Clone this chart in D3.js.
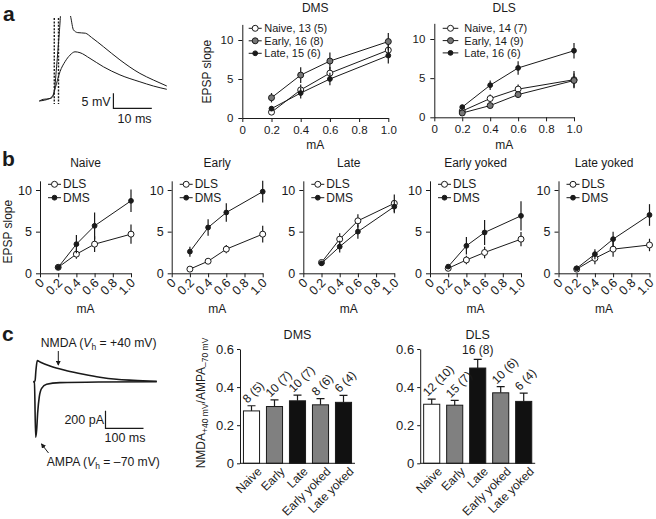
<!DOCTYPE html>
<html lang="en">
<head>
<meta charset="UTF-8">
<title>EPSP slope and NMDA/AMPA</title>
<script src="https://cdn.jsdelivr.net/npm/d3@7/dist/d3.min.js"></script>
<style>
  html, body { margin: 0; background: #fff; }
  svg { display: block; font-family: 'Liberation Sans', Arial, sans-serif; fill: #1a1a1a; }
  .axis path, .axis line { stroke: #1a1a1a; }
  .axis text { fill: #1a1a1a; font-family: 'Liberation Sans', Arial, sans-serif; }
</style>
</head>
<body>
<script>
// stimulation intensities (mA) and ticks
const currents = [0.2, 0.4, 0.6, 1.0]
const mATicks = [0, 0.2, 0.4, 0.6, 0.8, 1.0]
const slopeTicks = [0, 5, 10]

// panel a - DMS
const aDmsNaive = [0.75, 3.6, 5.75, 8.7]
const aDmsNaiveErr = [0.2, 0.7, 0.8, 1.0]
const aDmsEarly = [2.6, 5.5, 7.3, 9.8]
const aDmsEarlyErr = [0.6, 1.0, 1.1, 1.1]
const aDmsLate = [1.2, 3.2, 5.0, 8.0]
const aDmsLateErr = [0.3, 0.7, 0.8, 1.0]
const aDmsLegend = ['Naive, 13 (5)', 'Early, 16 (8)', 'Late, 15 (6)']

// panel a - DLS
const aDlsNaive = [0.8, 2.4, 3.6, 4.8]
const aDlsNaiveErr = [0.2, 0.5, 0.6, 1.1]
const aDlsEarly = [0.55, 1.5, 2.9, 4.7]
const aDlsEarlyErr = [0.2, 0.3, 0.4, 0.9]
const aDlsLate = [1.3, 4.1, 6.3, 8.5]
const aDlsLateErr = [0.3, 0.6, 0.85, 1.0]
const aDlsLegend = ['Naive, 14 (7)', 'Early, 14 (9)', 'Late, 16 (6)']

// panel b - DLS vs DMS per group
const bGroups = ['Naive', 'Early', 'Late', 'Early yoked', 'Late yoked']
const bDls = [
  [0.72, 2.3, 3.5, 4.7],
  [0.5, 1.45, 2.9, 4.7],
  [1.3, 4.1, 6.3, 8.4],
  [0.6, 1.6, 2.5, 4.1],
  [0.5, 1.8, 2.9, 3.4]
]
const bDlsErr = [
  [0.2, 0.55, 0.95, 1.15],
  [0.15, 0.25, 0.5, 1.0],
  [0.2, 0.7, 0.8, 1.05],
  [0.15, 0.5, 0.7, 0.85],
  [0.15, 0.7, 0.9, 0.75]
]
const bDms = [
  [0.72, 3.5, 5.7, 8.7],
  [2.6, 5.5, 7.3, 9.8],
  [1.2, 3.2, 5.0, 8.0],
  [0.8, 3.3, 4.9, 6.9],
  [0.6, 2.3, 4.1, 7.0]
]
const bDmsErr = [
  [0.2, 1.1, 1.6, 1.35],
  [0.6, 1.0, 1.1, 1.3],
  [0.2, 0.7, 0.85, 0.8],
  [0.2, 1.05, 1.5, 1.75],
  [0.15, 0.6, 0.9, 1.3]
]
const bLegend = ['DLS', 'DMS']

// panel c - NMDA/AMPA ratio
const ratioGroups = ['Naive', 'Early', 'Late', 'Early yoked', 'Late yoked']
const ratioTicks = [0, 0.2, 0.4, 0.6]
const ratioDms = [0.275, 0.298, 0.328, 0.307, 0.32]
const ratioDmsErr = [0.027, 0.035, 0.03, 0.033, 0.037]
const ratioDmsN = ['8 (5)', '10 (7)', '10 (7)', '8 (6)', '6 (4)']
const ratioDls = [0.31, 0.305, 0.50, 0.37, 0.325]
const ratioDlsErr = [0.027, 0.025, 0.046, 0.032, 0.043]
const ratioDlsN = ['12 (10)', '15 (7)', '16 (8)', '10 (6)', '6 (4)']

// example traces: [ms, mV] and [ms, pA]
const epspSmall = [[0, 0], [1, 0.55], [2.8, 0.8], [3.5, 1.4], [3.9, 3.1], [4.5, 5.9], [5.4, 9.8], [6.7, 13.1], [8, 15.3], [9.3, 16.4], [10.6, 16.1], [13.2, 14.2], [16.7, 11.4], [21, 8.7], [26.2, 6.4], [29.7, 5.0], [33.2, 3.9]]
const epspLarge = [[0, 0], [2.8, 0.9], [3.8, 2.6], [4.5, 11.4], [5.2, 22.6], [5.8, 31.4], [7.6, 31.4], [8.2, 27.9], [8.9, 23.7], [10, 22.8], [12, 22.6], [13.6, 21.2], [16.7, 18.1], [21, 13.7], [26.2, 9.2], [29.7, 7.0], [33.2, 5.0]]
const nmdaTrace = [[0, 0], [4.5, 8], [7, 133], [10.5, 239], [17.6, 224], [44, 178], [88, 125], [132, 84], [175, 50], [219, 27], [263, 16], [325, 5]]
const ampaTrace = [[0, 0], [3, -5], [6.2, -632], [8.8, -549], [11.4, -359], [15.8, -170], [22, -75], [35, -30], [70, -11], [175, -3], [325, 0]]

const width = 656
const height = 519
const svg = d3.select('body').append('svg')
  .attr('width', width)
  .attr('height', height)

const ink = '#1a1a1a'
const styles = {
  white: { fill: '#fff', r: 3 },
  gray: { fill: '#777', r: 3 },
  black: { fill: ink, r: 2.4 }
}

// panel letters
;[['a', 3, 21], ['b', 2, 166], ['c', 2, 341]].forEach(([t, x, y]) => {
  svg.append('text').attr('x', x).attr('y', y)
    .attr('font-size', 21).attr('font-weight', 'bold').text(t)
})

// EPSP slope vs current plot
function epspPlot(box, series, legend) {
  const x = d3.scaleLinear().domain([0, 1]).range([box.x0, box.x1])
  const y = d3.scaleLinear().domain([0, 10]).range([box.yZero, box.yTen])
  const yAx = d3.scaleLinear().domain([0, box.yMax]).range([box.yZero, y(box.yMax)])
  const g = svg.append('g')

  const gx = g.append('g').attr('class', 'axis')
    .attr('transform', `translate(0,${box.yZero})`)
    .call(d3.axisBottom(x).tickValues(mATicks)
      .tickSize(4).tickSizeOuter(0).tickPadding(4))
  gx.selectAll('.tick text').attr('font-size', box.tickFont)
    .text(d => d === 0 ? '0' : d.toFixed(1))
  if (box.rotate) {
    gx.selectAll('.tick text')
      .attr('text-anchor', 'end')
      .attr('x', -4).attr('y', 6).attr('dy', '0.35em')
      .attr('transform', 'rotate(-45)')
  }
  g.append('g').attr('class', 'axis')
    .attr('transform', `translate(${box.x0},0)`)
    .call(d3.axisLeft(yAx).tickValues(slopeTicks).tickSize(4).tickSizeOuter(0).tickPadding(box.rotate ? 4 : 5))
    .selectAll('.tick text').attr('font-size', box.tickFont)

  const line = d3.line().x(d => x(d[0])).y(d => y(d[1]))
  series.forEach(s => {
    const pts = currents.map((c, i) => [c, s.vals[i], s.err[i]])
    g.append('path').attr('d', line(pts)).attr('fill', 'none').attr('stroke', ink).attr('stroke-width', 1)
    g.selectAll(null).data(pts).join('line')
      .attr('x1', d => x(d[0])).attr('x2', d => x(d[0]))
      .attr('y1', d => y(d[1] - d[2])).attr('y2', d => y(d[1] + d[2]))
      .attr('stroke', ink).attr('stroke-width', 1.2)
    g.selectAll(null).data(pts).join('circle')
      .attr('cx', d => x(d[0])).attr('cy', d => y(d[1]))
      .attr('r', s.style.r).attr('fill', s.style.fill)
      .attr('stroke', ink).attr('stroke-width', 1)
  })

  // legend
  series.forEach((s, i) => {
    const ly = legend.y + i * legend.dy
    g.append('line').attr('x1', box.x0 + legend.l0).attr('x2', box.x0 + legend.l1)
      .attr('y1', ly).attr('y2', ly).attr('stroke', ink)
    g.append('circle').attr('cx', box.x0 + (legend.l0 + legend.l1) / 2).attr('cy', ly)
      .attr('r', s.style.r).attr('fill', s.style.fill).attr('stroke', ink)
    g.append('text').attr('x', box.x0 + legend.tx).attr('y', ly + 4)
      .attr('font-size', legend.font).text(legend.labels[i])
  })

  g.append('text').attr('x', (box.x0 + box.x1) / 2).attr('y', box.titleY)
    .attr('text-anchor', 'middle').attr('font-size', 12).text(box.title)
  g.append('text').attr('x', (box.x0 + box.x1) / 2).attr('y', box.mAY)
    .attr('text-anchor', 'middle').attr('font-size', 12).text('mA')
  if (box.yLabel) {
    g.append('text').attr('transform', `translate(${box.yLabel[0]},${box.yLabel[1]}) rotate(-90)`)
      .attr('text-anchor', 'middle').attr('font-size', 12).text('EPSP slope')
  }
}

// panel a plots
epspPlot(
  { x0: 242.3, x1: 388.3, yZero: 118, yTen: 40, yMax: 12, title: 'DMS', titleY: 12, mAY: 149, yLabel: [211, 71.7], tickFont: 11.5 },
  [
    { vals: aDmsNaive, err: aDmsNaiveErr, style: styles.white },
    { vals: aDmsEarly, err: aDmsEarlyErr, style: styles.gray },
    { vals: aDmsLate, err: aDmsLateErr, style: styles.black }
  ],
  { y: 28.3, dy: 12.5, l0: 6.4, l1: 19.4, tx: 22, font: 11, labels: aDmsLegend }
)
epspPlot(
  { x0: 434.3, x1: 574, yZero: 117.3, yTen: 39, yMax: 12, title: 'DLS', titleY: 12, mAY: 149, tickFont: 11.5 },
  [
    { vals: aDlsNaive, err: aDlsNaiveErr, style: styles.white },
    { vals: aDlsEarly, err: aDlsEarlyErr, style: styles.gray },
    { vals: aDlsLate, err: aDlsLateErr, style: styles.black }
  ],
  { y: 28.3, dy: 12.3, l0: 8.4, l1: 24, tx: 30, font: 11, labels: aDlsLegend }
)

// panel b plots
const bX0 = [40, 171.7, 303.3, 430, 558.5]
bGroups.forEach((name, i) => {
  epspPlot(
    { x0: bX0[i], x1: bX0[i] + 91, yZero: 273.3, yTen: 190, yMax: 11.1, title: name, titleY: 167, mAY: 313,
      rotate: true, yLabel: i === 0 ? [12, 231.7] : null, tickFont: 12.5 },
    [
      { vals: bDls[i], err: bDlsErr[i], style: styles.white },
      { vals: bDms[i], err: bDmsErr[i], style: styles.black }
    ],
    { y: 184.3, dy: 13.4, l0: 8, l1: 21, tx: 23, font: 12, labels: bLegend }
  )
})

// panel a example EPSP traces
const tA = d3.scaleLinear().domain([0, 10]).range([39.3, 77.7])
const vA = d3.scaleLinear().domain([0, 5]).range([101, 86])
svg.append('clipPath').attr('id', 'clipA').append('rect')
  .attr('x', 30).attr('y', 16).attr('width', 150).attr('height', 100)
const traceLine = d3.line().x(d => tA(d[0])).y(d => vA(d[1])).curve(d3.curveMonotoneX)
;[epspSmall, epspLarge].forEach(tr => {
  svg.append('path').attr('d', traceLine(tr)).attr('clip-path', 'url(#clipA)')
    .attr('fill', 'none').attr('stroke', ink).attr('stroke-width', 1)
})
;[3.9, 5.0].forEach(t => {
  svg.append('line').attr('x1', tA(t)).attr('x2', tA(t)).attr('y1', 18).attr('y2', 104)
    .attr('stroke', ink).attr('stroke-width', 1.4).attr('stroke-dasharray', '2,1.4')
})
svg.append('path')
  .attr('d', `M${tA(19.3)},${vA(2.57)}V${vA(-2.43)}H${tA(29.3)}`)
  .attr('fill', 'none').attr('stroke', ink).attr('stroke-width', 1.2)
svg.append('text').attr('x', tA(18.6)).attr('y', 106).attr('text-anchor', 'end')
  .attr('font-size', 12.5).text('5 mV')
svg.append('text').attr('x', tA(24.8)).attr('y', 123).attr('text-anchor', 'middle')
  .attr('font-size', 12.5).text('10 ms')

// panel c example currents
const tC = d3.scaleLinear().domain([0, 100]).range([33.3, 71.3])
const iC = d3.scaleLinear().domain([0, 200]).range([381.7, 364.1])
const curLine = d3.line().x(d => tC(d[0])).y(d => iC(d[1])).curve(d3.curveMonotoneX)
;[nmdaTrace, ampaTrace].forEach(tr => {
  svg.append('path').attr('d', curLine(tr))
    .attr('fill', 'none').attr('stroke', ink).attr('stroke-width', 1.6)
})
svg.append('path')
  .attr('d', `M${tC(190)},${iC(-330)}V${iC(-530)}H${tC(290)}`)
  .attr('fill', 'none').attr('stroke', ink).attr('stroke-width', 1.2)
svg.append('text').attr('x', 104).attr('y', 424).attr('text-anchor', 'end')
  .attr('font-size', 12.5).text('200 pA')
svg.append('text').attr('x', 125).attr('y', 442).attr('text-anchor', 'middle')
  .attr('font-size', 12.5).text('100 ms')

function vhLabel(x, y, rest) {
  const t = svg.append('text').attr('x', x).attr('y', y).attr('font-size', 12.2)
  t.append('tspan').text(rest[0] + ' (')
  t.append('tspan').attr('font-style', 'italic').text('V')
  t.append('tspan').attr('font-size', 8.5).attr('dy', 3).text('h')
  t.append('tspan').attr('dy', -3).text(' = ' + rest[1] + ')')
}
vhLabel(40.7, 347, ['NMDA', '+40 mV'])
vhLabel(46.7, 466, ['AMPA', '–70 mV'])

svg.append('defs').append('marker').attr('id', 'arrow')
  .attr('viewBox', '0 0 6 6').attr('refX', 5).attr('refY', 3)
  .attr('markerWidth', 5).attr('markerHeight', 5).attr('orient', 'auto')
  .append('path').attr('d', 'M0,0L6,3L0,6z').attr('fill', ink)
svg.append('line').attr('x1', 58.3).attr('y1', 351).attr('x2', 58.3).attr('y2', 365)
  .attr('stroke', ink).attr('marker-end', 'url(#arrow)')
svg.append('line').attr('x1', 48.5).attr('y1', 453).attr('x2', 41.5).attr('y2', 444)
  .attr('stroke', ink).attr('marker-end', 'url(#arrow)')

// NMDA/AMPA bar charts
const barFill = ['#fff', '#808080', '#111', '#808080', '#111']
const yR = d3.scaleLinear().domain([0, 0.6]).range([463.3, 349])

function ratioPlot(x0, x1, title, vals, errs, counts, flatIdx) {
  const x = d3.scaleBand().domain(ratioGroups).range([x0, x1]).paddingInner(0.3).paddingOuter(0.15)
  const g = svg.append('g')
  const rows = ratioGroups.map((k, i) => ({ k, v: vals[i], e: errs[i], n: counts[i], i }))

  g.selectAll(null).data(rows).join('path')
    .attr('d', d => {
      const cx = x(d.k) + x.bandwidth() / 2
      return `M${cx},${yR(d.v)}V${yR(d.v + d.e)}M${cx - 4},${yR(d.v + d.e)}H${cx + 4}`
    })
    .attr('stroke', ink).attr('stroke-width', 1.2).attr('fill', 'none')
  g.selectAll(null).data(rows).join('rect')
    .attr('x', d => x(d.k)).attr('width', x.bandwidth())
    .attr('y', d => yR(d.v)).attr('height', d => yR(0) - yR(d.v))
    .attr('fill', (d, i) => barFill[i]).attr('stroke', ink).attr('stroke-width', 1)

  g.append('g').attr('class', 'axis').attr('transform', `translate(${x0},0)`)
    .call(d3.axisLeft(yR).tickValues(ratioTicks).tickSize(3).tickSizeOuter(0).tickPadding(3)
      .tickFormat(d => d === 0 ? '0' : d.toFixed(1)))
    .selectAll('.tick text').attr('font-size', 13)
  g.append('line').attr('x1', x0).attr('x2', x1).attr('y1', yR(0)).attr('y2', yR(0))
    .attr('stroke', ink)

  // n labels
  g.selectAll(null).data(rows).join('text')
    .attr('font-size', 12)
    .attr('text-anchor', d => d.i === flatIdx ? 'middle' : 'start')
    .attr('transform', d => {
      const cx = x(d.k) + x.bandwidth() / 2
      if (d.i === flatIdx) return `translate(${cx},${yR(d.v + d.e) - 5})`
      return `translate(${cx - 4},${yR(d.v + d.e) - 2}) rotate(-45)`
    })
    .text(d => d.n)

  // category labels
  g.selectAll(null).data(rows).join('text')
    .attr('font-size', 12).attr('text-anchor', 'end')
    .attr('transform', d => `translate(${x(d.k) + x.bandwidth() / 2 + 5},${yR(0) + 3}) rotate(-45)`)
    .attr('dy', '0.7em')
    .text(d => d.k)

  g.append('text').attr('x', (x0 + x1) / 2).attr('y', 339)
    .attr('text-anchor', 'middle').attr('font-size', 12.5).text(title)
}

ratioPlot(240, 355, 'DMS', ratioDms, ratioDmsErr, ratioDmsN, -1)
ratioPlot(420.2, 535.2, 'DLS', ratioDls, ratioDlsErr, ratioDlsN, 2)

// ratio y label with subscripts
const yl = svg.append('text').attr('transform', 'translate(205,403) rotate(-90)')
  .attr('text-anchor', 'middle').attr('font-size', 12)
yl.append('tspan').text('NMDA')
yl.append('tspan').attr('font-size', 8.5).attr('dy', 3).text('+40 mV')
yl.append('tspan').attr('dy', -3).text('/AMPA')
yl.append('tspan').attr('font-size', 8.5).attr('dy', 3).text('–70 mV')
</script>
</body>
</html>
